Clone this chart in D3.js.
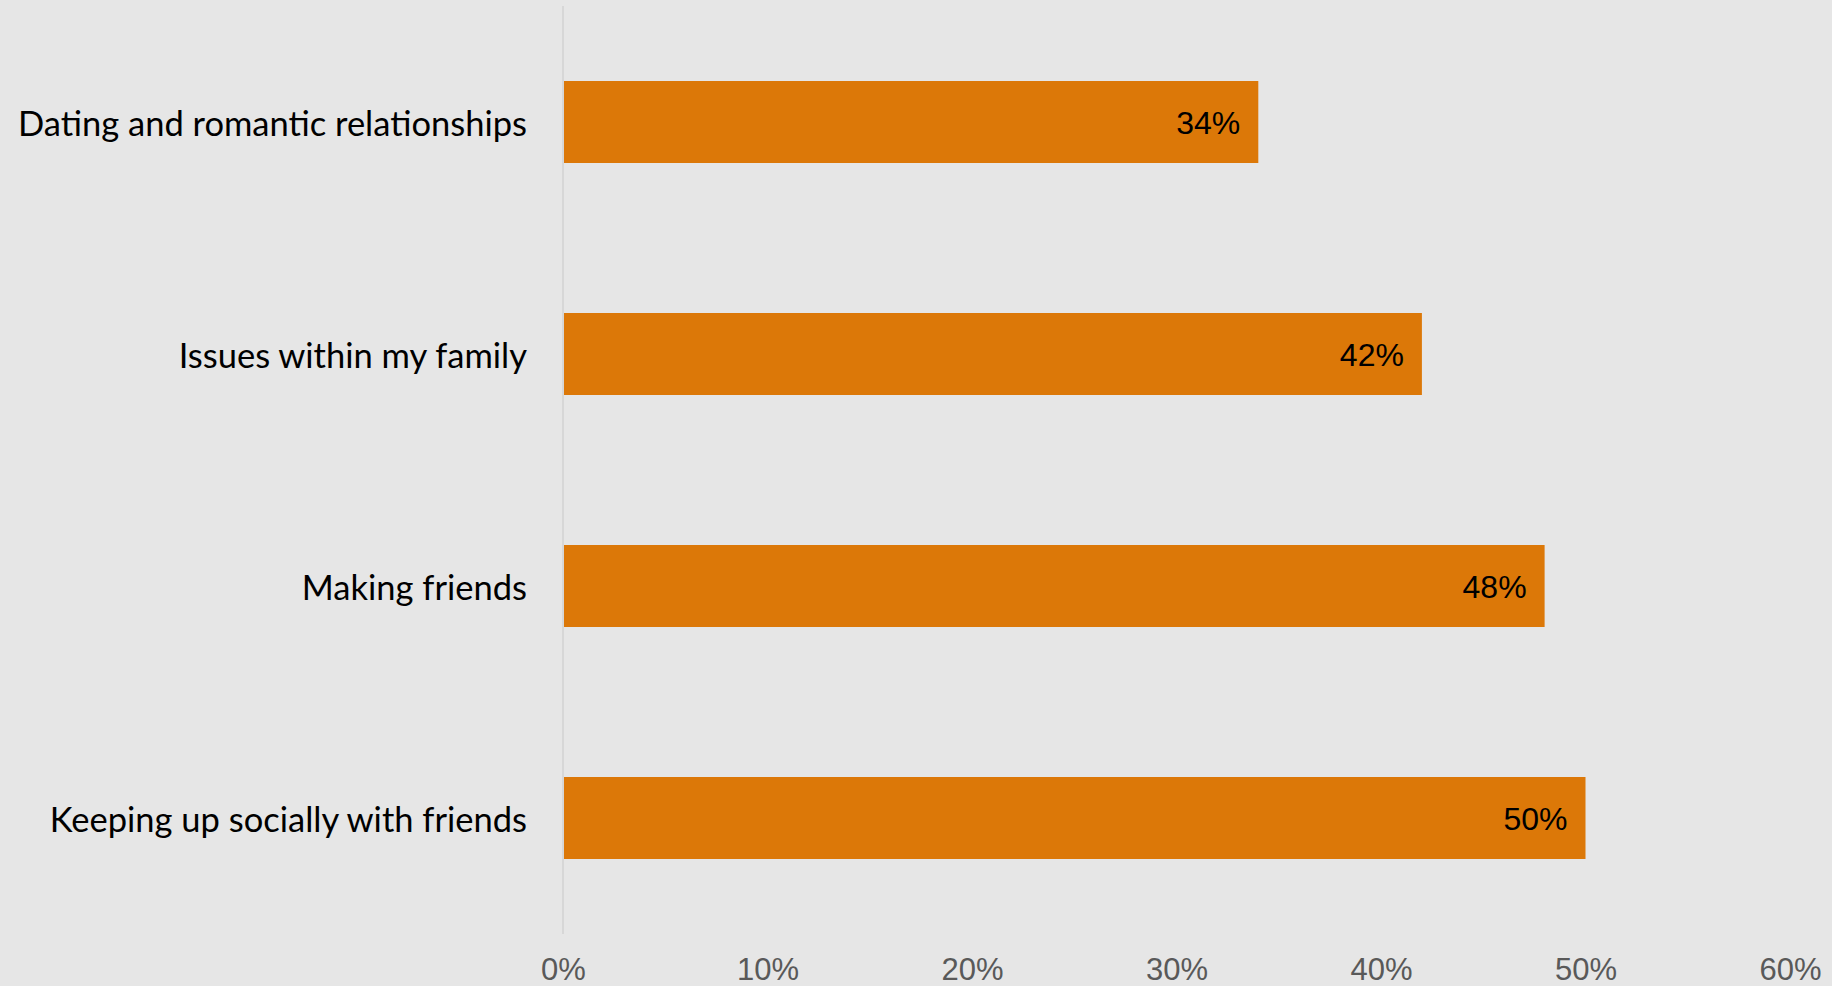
<!DOCTYPE html>
<html>
<head>
<meta charset="utf-8">
<script src="https://cdn.jsdelivr.net/npm/d3@7"></script>
<style>
  html, body { margin: 0; padding: 0; background: #e6e6e6; overflow: hidden; }
  svg { display: block; }
</style>
</head>
<body>
<svg id="chart" width="1832" height="986"></svg>
<script>
// Share of respondents citing each area
const categories = [
  "Dating and romantic relationships",
  "Issues within my family",
  "Making friends",
  "Keeping up socially with friends"
];
const values = [34, 42, 48, 50];
const tickValues = [0, 10, 20, 30, 40, 50, 60];

const svg = d3.select("#chart");
const W = 1832, H = 986;

svg.append("rect").attr("width", W).attr("height", H).attr("fill", "#e6e6e6");

const x = d3.scaleLinear().domain([0, 60]).range([563, 1790]);
const y = d3.scaleBand().domain(categories).range([6, 934]).paddingInner(0.6466).paddingOuter(0.3233);

// vertical baseline at 0%
svg.append("line")
  .attr("x1", x(0)).attr("x2", x(0))
  .attr("y1", 6).attr("y2", 934)
  .attr("stroke", "#d2d2d2").attr("stroke-width", 1.5);

// bars
svg.selectAll("rect.bar")
  .data(categories)
  .join("rect")
  .attr("class", "bar")
  .attr("x", x(0) + 1)
  .attr("y", d => y(d))
  .attr("width", (d, i) => x(values[i]) - x(0) - 1)
  .attr("height", y.bandwidth())
  .attr("fill", "#dc7808");

// value labels inside bar ends
svg.selectAll("text.val")
  .data(categories)
  .join("text")
  .attr("class", "val")
  .attr("x", (d, i) => x(values[i]) - 18)
  .attr("y", d => y(d) + y.bandwidth() / 2 + 12)
  .attr("text-anchor", "end")
  .attr("font-family", "'Liberation Sans', Arial, sans-serif")
  .attr("font-size", 32)
  .attr("fill", "#000")
  .text((d, i) => values[i] + "%");

// category labels
svg.selectAll("text.cat")
  .data(categories)
  .join("text")
  .attr("class", "cat")
  .attr("x", 527)
  .attr("y", d => y(d) + y.bandwidth() / 2 + 14)
  .attr("text-anchor", "end")
  .attr("font-family", "Lato, 'Open Sans', sans-serif")
  .attr("font-size", 34.5)
  .attr("fill", "#000")
  .text(d => d);

// x axis tick labels
const axis = d3.axisBottom(x)
  .tickValues(tickValues)
  .tickFormat(d => d + "%")
  .tickSize(0)
  .tickPadding(0);

const gx = svg.append("g")
  .attr("transform", "translate(0,958)")
  .call(axis);
gx.select(".domain").remove();
gx.selectAll("text")
  .attr("dy", "0.71em")
  .attr("y", 0)
  .attr("font-family", "'Liberation Sans', Arial, sans-serif")
  .attr("font-size", 31)
  .attr("fill", "#595959");
</script>
</body>
</html>
